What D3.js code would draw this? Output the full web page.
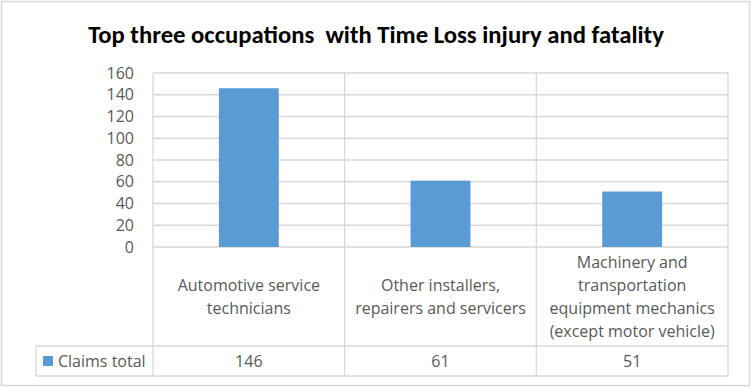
<!DOCTYPE html>
<html>
<head>
<meta charset="utf-8">
<script src="https://cdn.jsdelivr.net/npm/d3@7"></script>
<style>
  body { margin: 0; background: #fff; }
  svg { display: block; }
  text { font-family: "Open Sans", "Noto Sans", sans-serif; fill: #595959; }
  .title { font-family: Carlito, Calibri, sans-serif; }
</style>
</head>
<body>
<svg width="752" height="387"></svg>
<script>
var title = 'Top three occupations  with Time Loss injury and fatality';
var categories = ['Automotive service technicians',
                  'Other installers, repairers and servicers',
                  'Machinery and transportation equipment mechanics (except motor vehicle)'];
var categoryLines = [['Automotive service', 'technicians'],
                     ['Other installers,', 'repairers and servicers'],
                     ['Machinery and', 'transportation', 'equipment mechanics', '(except motor vehicle)']];
var seriesName = 'Claims total';
var claims = [146, 61, 51];
var yTicks = [0, 20, 40, 60, 80, 100, 120, 140, 160];

var svg = d3.select('svg');
var gridColor = '#d9d9d9';
var barColor = '#5b9bd5';
var fontSize = '16px';

// outer chart border
svg.append('rect')
    .attr('x', 1.5).attr('y', 1.5)
    .attr('width', 748).attr('height', 384)
    .style('fill', '#fff').style('stroke', gridColor).style('stroke-width', 1.5);

// title
svg.append('text')
    .attr('class', 'title')
    .attr('x', 376).attr('y', 43)
    .attr('text-anchor', 'middle')
    .style('font-size', '24.7px').style('font-weight', 'bold').style('fill', '#000')
    .style('white-space', 'pre')
    .text(title);

// scales
var x = d3.scaleBand().domain(categories).range([153, 728]);
var y = d3.scaleLinear().domain([0, 160]).range([247, 73]);
var barW = x.bandwidth() * 0.3125;
var tableMid = 346, tableBottom = 376, legendLeft = 36;

// horizontal gridlines
svg.append('g').selectAll('line')
    .data(yTicks).enter().append('line')
    .attr('x1', 153).attr('x2', 728)
    .attr('y1', d => y(d)).attr('y2', d => y(d))
    .style('stroke', gridColor).style('stroke-width', 1.3);

// vertical lines (category boundaries through table)
var bounds = categories.map(c => x(c)).concat([x.range()[1]]);
svg.append('g').selectAll('line')
    .data(bounds).enter().append('line')
    .attr('x1', d => d).attr('x2', d => d)
    .attr('y1', y(160)).attr('y2', tableBottom)
    .style('stroke', gridColor).style('stroke-width', 1.3);

// table horizontal lines
svg.append('g').selectAll('line')
    .data([tableMid, tableBottom]).enter().append('line')
    .attr('x1', legendLeft).attr('x2', 728)
    .attr('y1', d => d).attr('y2', d => d)
    .style('stroke', gridColor).style('stroke-width', 1.3);
svg.append('line')
    .attr('x1', legendLeft).attr('x2', legendLeft)
    .attr('y1', tableMid).attr('y2', tableBottom)
    .style('stroke', gridColor).style('stroke-width', 1.3);

// bars
svg.append('g').selectAll('rect')
    .data(claims).enter().append('rect')
    .attr('x', (d, i) => x(categories[i]) + (x.bandwidth() - barW) / 2)
    .attr('y', d => y(d))
    .attr('width', barW)
    .attr('height', d => y(0) - y(d))
    .style('fill', barColor);

// y axis
var yAxis = d3.axisLeft(y).tickValues(yTicks).tickSize(0).tickPadding(19);
var ya = svg.append('g').attr('transform', 'translate(153,0)').call(yAxis);
ya.select('.domain').remove();
ya.selectAll('text').style('font-size', fontSize).style('font-family', null).style('fill', '#595959');

// category labels in table
var lineH = 23;
var catMid = (y(0) + tableMid) / 2;
categoryLines.forEach(function(lines, i) {
    var cx = x(categories[i]) + x.bandwidth() / 2;
    var t = svg.append('text')
        .attr('text-anchor', 'middle')
        .attr('dominant-baseline', 'central')
        .style('font-size', fontSize);
    lines.forEach(function(l, j) {
        t.append('tspan')
            .attr('x', cx)
            .attr('y', catMid + (j - (lines.length - 1) / 2) * lineH)
            .text(l);
    });
});

// legend row
var rowMid = (tableMid + tableBottom) / 2;
svg.append('rect')
    .attr('x', 43).attr('y', rowMid - 5)
    .attr('width', 10).attr('height', 10)
    .style('fill', barColor);
svg.append('text')
    .attr('x', 58).attr('y', rowMid)
    .attr('dominant-baseline', 'central')
    .style('font-size', fontSize)
    .text(seriesName);
svg.append('g').selectAll('text')
    .data(claims).enter().append('text')
    .attr('x', (d, i) => x(categories[i]) + x.bandwidth() / 2)
    .attr('y', rowMid)
    .attr('text-anchor', 'middle')
    .attr('dominant-baseline', 'central')
    .style('font-size', fontSize)
    .text(d => d);
</script>
</body>
</html>
